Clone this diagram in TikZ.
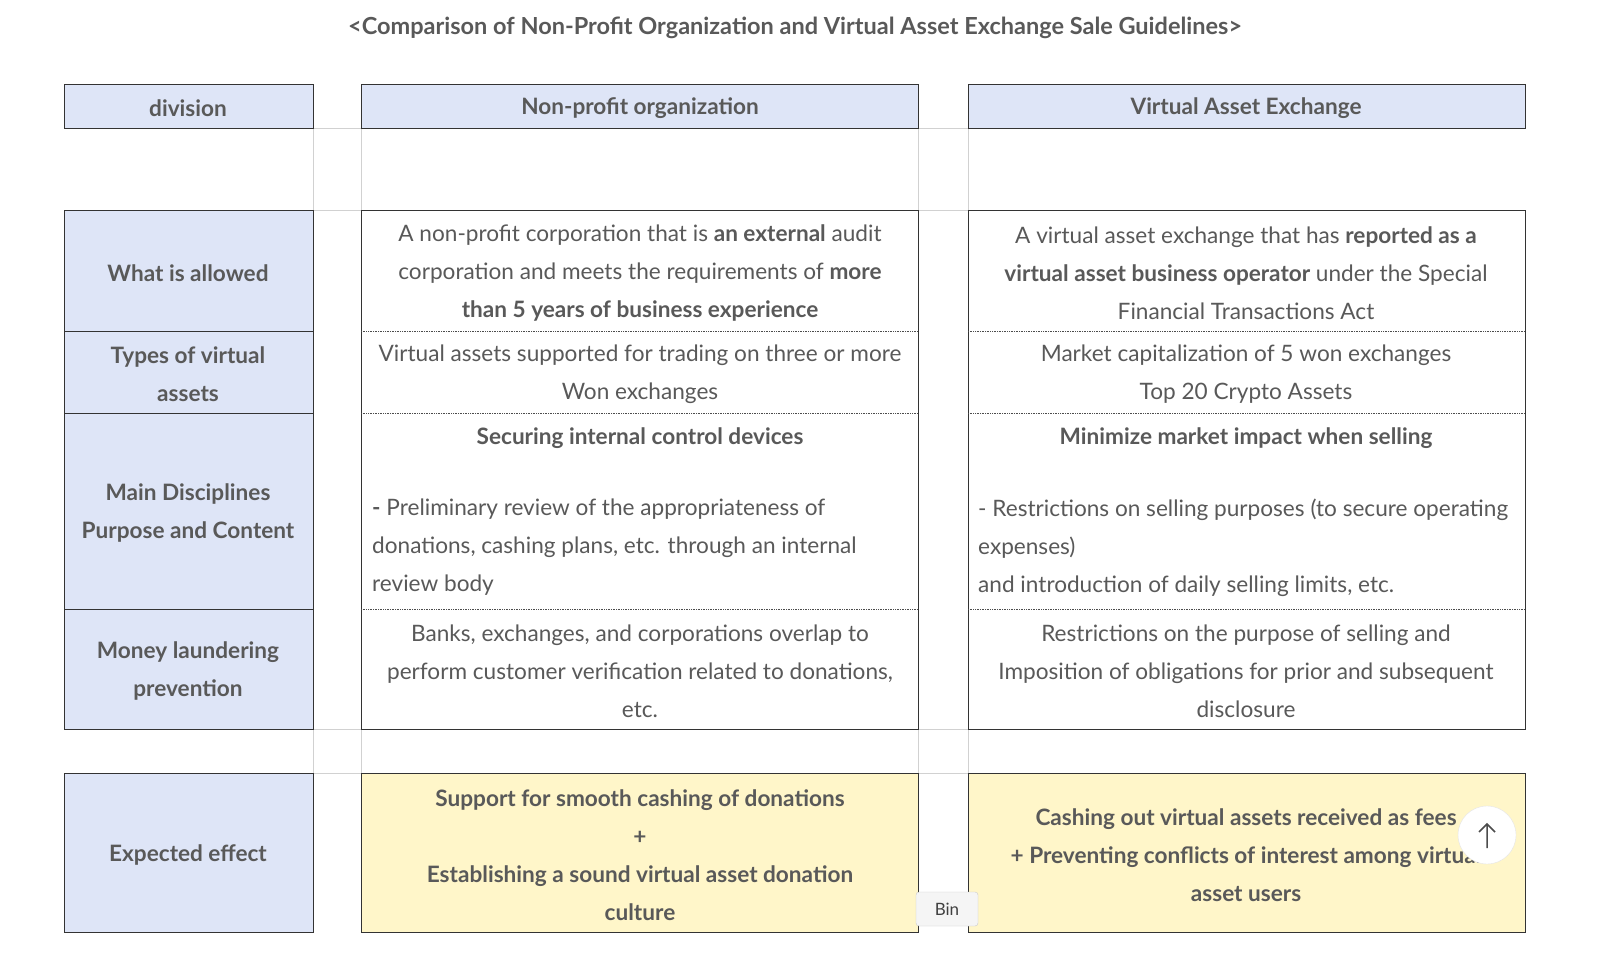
\documentclass[tikz,border=0pt]{standalone}
\usepackage{fontspec}
\setmainfont{Lato}
\begin{document}
\begin{tikzpicture}[x=1pt,y=-1pt,
  txt/.style={text=black!65,font=\fontsize{22.6}{38}\selectfont,align=center,inner sep=0pt},
  bf/.style={font=\bfseries\fontsize{22.6}{38}\selectfont},
  hdr/.style={fill=hb,draw=black!80,line width=0.8pt},
  cell/.style={draw=black!80,line width=0.8pt},
  dot/.style={densely dotted,draw=black!70,line width=0.7pt},
  faint/.style={draw=black!18,line width=0.6pt}]
\definecolor{hb}{HTML}{DEE5F7}
\definecolor{yb}{HTML}{FFF6C9}
\useasboundingbox (0,0) rectangle (1600,966);
\fill[white] (0,0) rectangle (1600,966);
\node[txt,font=\bfseries\fontsize{23.5}{28}\selectfont] (title) at (795,28) {<Comparison of Non-Profit Organization and Virtual Asset Exchange Sale Guidelines>};
% faint grid lines
\foreach \x in {313,361,918,968} \draw[faint] (\x,84) -- (\x,932);
\draw[faint] (313,128) -- (968,128);
\draw[faint] (313,210) -- (361,210) (918,210) -- (968,210);
\draw[faint] (313,729) -- (968,729) (313,773) -- (968,773);
% headers
\draw[hdr] (64,84) rectangle (313,128);
\draw[hdr] (361,84) rectangle (918,128);
\draw[hdr] (968,84) rectangle (1525,128);
% left column
\foreach \a/\b in {210/331,331/413,413/609,609/729,773/932} \draw[hdr] (64,\a) rectangle (313,\b);
% middle & right
\draw[cell] (361,210) rectangle (918,729);
\draw[cell] (968,210) rectangle (1525,729);
\foreach \yy in {331,413,609} {\draw[dot] (361,\yy) -- (918,\yy); \draw[dot] (968,\yy) -- (1525,\yy);}
\draw[cell,fill=yb] (361,773) rectangle (918,932);
\draw[cell,fill=yb] (968,773) rectangle (1525,932);
% header texts
\node[txt,bf] (h1) at (188,108) {division};
\node[txt,bf] (h2) at (640,108) {Non-profit organization};
\node[txt,bf] (h3) at (1246,108) {Virtual Asset Exchange};
% left labels
\node[txt,bf] (l1) at (188,273) {What is allowed};
\node[txt,bf] (l2) at (188,374) {Types of virtual\\assets};
\node[txt,bf] (l3) at (188,513) {Main Disciplines\\Purpose and Content};
\node[txt,bf] (l4) at (188,671) {Money laundering\\prevention};
\node[txt,bf] (l5) at (188,855) {Expected effect};
% middle
\node[txt] (m1) at (640,273) {A non-profit corporation that is \textbf{an external} audit\\corporation and meets the requirements of \textbf{more}\\\textbf{than 5 years of business experience}};
\node[txt] (m2) at (640,374) {Virtual assets supported for trading on three or more\\Won exchanges};
\node[txt,bf] (m3a) at (640,438) {Securing internal control devices};
\node[txt,align=left,anchor=north west] (m3b) at (372,499) {\textbf{-} Preliminary review of the appropriateness of\\donations, cashing plans, etc. through an internal\\review body};
\node[txt] (m4) at (640,671) {Banks, exchanges, and corporations overlap to\\perform customer verification related to donations,\\etc.};
\node[txt,bf] (m5) at (640,855) {Support for smooth cashing of donations\\+\\Establishing a sound virtual asset donation\\culture};
% right
\node[txt] (r1) at (1246,273) {A virtual asset exchange that has \textbf{reported as a}\\\textbf{virtual asset business operator} under the Special\\Financial Transactions Act};
\node[txt] (r2) at (1246,374) {Market capitalization of 5 won exchanges\\Top 20 Crypto Assets};
\node[txt,bf] (r3a) at (1246,438) {Minimize market impact when selling};
\node[txt,align=left,anchor=north west] (r3b) at (978,499) {- Restrictions on selling purposes (to secure operating\\expenses)\\and introduction of daily selling limits, etc.};
\node[txt] (r4) at (1246,671) {Restrictions on the purpose of selling and\\Imposition of obligations for prior and subsequent\\disclosure};
\begin{scope}
\clip (968,773) rectangle (1525,932);
\node[txt,bf] (r5) at (1246,855) {Cashing out virtual assets received as fees\\+ Preventing conflicts of interest among virtual\\asset users};
\end{scope}
% overlays
\node[circle,fill=white,draw=black!10,minimum size=58pt] (btn) at (1487,835) {};
\draw[black!70,line width=1.5pt] (1487,848) -- (1487,824) (1479,832) -- (1487,824) -- (1495,832);
\node[fill=black!4,draw=black!20,rounded corners=3pt,minimum width=62pt,minimum height=34pt,text=black!75,font=\fontsize{17}{20}\selectfont] (bin) at (947,909) {Bin};
\end{tikzpicture}
\end{document}
